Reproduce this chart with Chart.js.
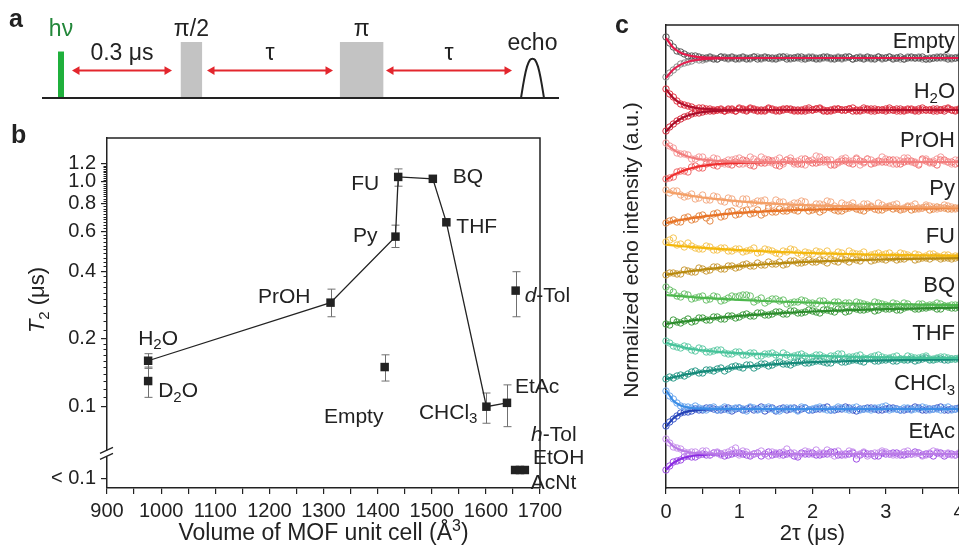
<!DOCTYPE html>
<html>
<head>
<meta charset="utf-8">
<script src="https://cdn.jsdelivr.net/npm/chart.js@4.4.1/dist/chart.umd.min.js"></script>
<style>
  html, body { margin: 0; padding: 0; background: #fff; width: 959px; height: 547px; overflow: hidden; }
  canvas { position: absolute; }
  #panelA { left: 0; top: 0; }
  #panelB { left: 0; top: 110px; }
  #panelC { left: 600px; top: 0; }
</style>
</head>
<body>
<canvas id="panelA" width="600" height="110"></canvas>
<canvas id="panelB" width="600" height="437"></canvas>
<canvas id="panelC" width="400" height="547"></canvas>
<script>
// ─── Panel a: pulse sequence (diagram units along the time line) ─────────────
const pulseNames = ['hν', 'π/2', 'π'];
const pulseStart = [16, 138.5, 297.7];
const pulseEnd = [22, 160.3, 341.6];
const pulseHeight = [0.83, 1, 1];
const delayLabels = ['0.3 μs', 'τ', 'τ'];
const delayStart = [35, 170, 349];
const delayEnd = [125, 286, 465];
const echoShapeX = [479, 482, 485, 488, 490.5, 493, 496, 499, 502];
const echoShapeY = [0, 0.32, 0.56, 0.68, 0.70, 0.68, 0.56, 0.32, 0];
const timeLineEnd = 517;

// ─── Panel b: T2 vs MOF unit-cell volume ─────────────────────────────────────
const lineNames = ['H2O', 'PrOH', 'Py', 'FU', 'BQ', 'THF', 'CHCl3', 'EtAc'];
const lineVolume = [976, 1313, 1433, 1438, 1502, 1527, 1601, 1639];
const lineT2 = [0.16, 0.29, 0.57, 1.05, 1.03, 0.66, 0.10, 0.104];
const lineErrLo = [0.148, 0.251, 0.51, 0.955, null, null, 0.0844, 0.0815];
const lineErrHi = [0.172, 0.333, 0.641, 1.14, null, null, 0.115, 0.125];

const otherNames = ['D2O', 'Empty', 'd-Tol'];
const otherVolume = [976, 1413, 1655];
const otherT2 = [0.13, 0.15, 0.328];
const otherErrLo = [0.11, 0.13, 0.251];
const otherErrHi = [0.15, 0.17, 0.398];

const belowNames = ['h-Tol', 'EtOH', 'AcNt'];
const belowVolume = [1654, 1663, 1672];
const belowLimitT2 = 0.0523;   // plotted in the "< 0.1" band under the axis break

const t2TickValues = [0.048, 0.1, 0.2, 0.4, 0.6, 0.8, 1.0, 1.2];
const t2TickLabels = ['< 0.1', '0.1', '0.2', '0.4', '0.6', '0.8', '1.0', '1.2'];
const breakT2 = 0.062;

// ─── Panel c: echo decays (a.u., each trace shifted to its own baseline) ────
const echoNames = ['Empty', 'H2O', 'PrOH', 'Py', 'FU', 'BQ', 'THF', 'CHCl3', 'EtAc'];
const echoBaselines = [430, 378, 326, 280, 231, 182, 129, 79, 34];

const tFit = [0, 0.1, 0.2, 0.3, 0.4, 0.5, 0.7, 1.0, 1.5, 2.0, 2.5, 3.0, 3.5, 4.0];
const tData = [0, 0.1, 0.2, 0.3, 0.4, 0.5, 0.6, 0.7, 0.8, 0.9, 1, 1.1, 1.2, 1.3, 1.4, 1.5, 1.6, 1.7, 1.8, 1.9,
  2, 2.1, 2.2, 2.3, 2.4, 2.5, 2.6, 2.7, 2.8, 2.9, 3, 3.1, 3.2, 3.3, 3.4, 3.5, 3.6, 3.7, 3.8, 3.9, 4];
const tMid = [0.05, 0.15, 0.25, 0.35, 0.45, 0.55, 0.65, 0.75, 0.85, 0.95, 1.05, 1.15, 1.25, 1.35, 1.45, 1.55, 1.65, 1.75, 1.85, 1.95,
  2.05, 2.15, 2.25, 2.35, 2.45, 2.55, 2.65, 2.75, 2.85, 2.95, 3.05, 3.15, 3.25, 3.35, 3.45, 3.55, 3.65, 3.75, 3.85, 3.95];

const emptyUpFit = [20, 10.3, 5.3, 2.7, 1.4, 0.7, 0.2, 0, 0, 0, 0, 0, 0, 0];
const emptyLowFit = [-20, -11.5, -6.6, -3.8, -2.2, -1.2, -0.4, -0.1, 0, 0, 0, 0, 0, 0];
const h2oUpFit = [20.7, 11.9, 6.8, 3.9, 2.2, 1.3, 0.4, 0.1, 0, 0, 0, 0, 0, 0];
const h2oLowFit = [-21.7, -13.8, -8.7, -5.5, -3.5, -2.2, -0.9, -0.2, 0, 0, 0, 0, 0, 0];
const prohUpFit = [18.3, 12.3, 8.2, 5.5, 3.7, 2.5, 1.1, 0.3, 0, 0, 0, 0, 0, 0];
const prohLowFit = [-17.7, -13.1, -9.7, -7.1, -5.3, -3.9, -2.1, -0.9, -0.2, 0, 0, 0, 0, 0];
const pyUpFit = [16.6, 15.2, 13.9, 12.7, 11.5, 10.5, 8.8, 6.7, 4.2, 2.7, 1.7, 1.1, 0.7, 0.4];
const pyLowFit = [-15, -13.4, -12, -10.7, -9.6, -8.6, -6.9, -4.9, -2.8, -1.6, -0.9, -0.5, -0.3, -0.2];
const fuUpFit = [12.3, 11.6, 10.9, 10.3, 9.7, 9.2, 8.2, 6.8, 5.1, 3.8, 2.8, 2.1, 1.6, 1.2];
const fuLowFit = [-17.7, -16.6, -15.5, -14.5, -13.6, -12.7, -11.1, -9.1, -6.5, -4.7, -3.3, -2.4, -1.7, -1.2];
const bqUpFit = [11, 10.4, 9.8, 9.3, 8.7, 8.2, 7.3, 6.1, 4.5, 3.4, 2.5, 1.9, 1.4, 1.0];
const bqLowFit = [-18, -17, -16, -15.1, -14.2, -13.4, -11.9, -10, -7.4, -5.5, -4.1, -3.1, -2.3, -1.7];
const thfUpFit = [16.3, 14, 12.2, 10.7, 9.5, 8.6, 7.2, 5.8, 4.2, 3.1, 2.3, 1.7, 1.2, 0.9];
const thfLowFit = [-20, -18.3, -16.7, -15.2, -13.9, -12.7, -10.6, -8.1, -5.1, -3.2, -2.1, -1.3, -0.8, -0.5];
const chcl3UpFit = [19, 8.3, 3.6, 1.6, 0.7, 0.3, 0.1, 0, 0, 0, 0, 0, 0, 0];
const chcl3LowFit = [-18, -9.2, -4.7, -2.4, -1.3, -0.6, -0.2, 0, 0, 0, 0, 0, 0, 0];
const etacUpFit = [15, 7.7, 4, 2, 1, 0.5, 0.1, 0, 0, 0, 0, 0, 0, 0];
const etacLowFit = [-16, -8.9, -4.9, -2.7, -1.5, -0.8, -0.2, 0, 0, 0, 0, 0, 0, 0];

// measured points at tData
const emptyUpData = [21, 11, 6, 2, 2, 0, 1, -1, 0, 1, 0, -1, 1, 0, 0, -1, 1, 0, 1, -1, 0, 0, 1, -1, 0, 1, 0, -1, 0, 1, 0, -1, 1, 0, 0, 1, -1, 0, 1, 0, 0];
const emptyLowData = [-19, -12, -6, -4, -1, -2, 0, -1, 1, 0, -1, 0, 1, -1, 0, 0, 1, -1, 0, 0, 1, -1, 0, 0, -1, 1, 0, 0, -1, 1, 0, 0, -1, 1, 0, -1, 0, 1, 0, -1, 1];
const h2oUpData = [21, 13, 6, 4, 1, 2, 1, 0, -1, 1, 2, 0, 1, -1, 2, 0, 1, 0, -1, 1, 0, 2, -1, 1, 0, 1, 0, 2, -1, 0, 1, 0, -1, 1, 0, 2, 0, -1, 1, 0, 1];
const h2oLowData = [-21, -14, -9, -6, -3, -2, -1, 0, -1, 0, 1, -1, 0, 0, 1, -1, 0, 1, 0, -1, 0, 1, -1, 0, 0, 1, -1, 0, 1, 0, -1, 0, 1, 0, -1, 0, 0, 1, -1, 0, 0];
const prohUpData = [19, 14, 8, 7, 3, 5, 1, 3, -2, 2, 4, -1, 3, 5, 0, 2, -2, 4, 1, -3, 2, 5, 0, -2, 3, 1, 4, -1, 2, 0, 3, -2, 1, 4, 0, 2, -1, 3, 1, -2, 2];
const prohLowData = [-17, -15, -9, -10, -4, -6, -1, -4, 0, -3, -2, 1, -4, -1, 2, -3, 0, 1, -2, 3, -1, 0, 2, -3, 1, -1, 3, 0, -2, 1, 0, 2, -2, 1, -1, 3, 0, -3, 2, 0, -1];
const pyUpData = [18, 17, 13, 12, 9, 13, 8, 11, 6, 9, 4, 9, 5, 7, 2, 8, 6, 3, 5, 6, 1, 4, 7, 2, 5, 3, 0, 4, 2, 5, 1, 3, -1, 2, 4, 0, 2, -1, 3, 1, 0];
const pyLowData = [-15, -12, -14, -9, -11, -7, -13, -5, -8, -3, -6, -2, -5, -7, 0, -4, -3, -1, -3, 0, -2, -4, 1, -2, -3, 0, -1, -3, 1, -2, 0, -1, -2, 1, -1, 0, -2, 1, 0, -1, 0];
const fuUpData = [15, 19, 13, 14, 9, 8, 10, 7, 9, 6, 8, 6, 9, 5, 7, 4, 6, 8, 4, 5, 3, 5, 6, 2, 4, 6, 3, 5, 2, 4, 3, 1, 4, 2, 3, 0, 3, 1, 2, 0, 1];
const fuLowData = [-18, -16, -17, -14, -15, -12, -13, -10, -12, -9, -10, -7, -9, -8, -5, -7, -8, -4, -6, -5, -5, -3, -6, -4, -2, -5, -3, -1, -4, -2, -3, -1, -2, 0, -3, -1, -2, 0, -1, -2, 0];
const bqUpData = [19, 14, 9, 11, 8, 10, 7, 9, 6, 10, 10, 11, 4, 8, 5, 7, 6, 3, 4, 5, 3, 5, 2, 4, 1, 3, 4, 2, 0, 3, 1, 3, 0, 2, -1, 2, 1, 3, 0, 1, 1];
const bqLowData = [-18, -14, -17, -13, -15, -12, -14, -11, -13, -10, -11, -8, -10, -7, -9, -6, -8, -5, -7, -6, -5, -7, -4, -6, -3, -5, -3, -4, -2, -4, -3, -2, -4, -1, -3, -2, -1, -3, 0, -2, -1];
const thfUpData = [18, 13, 11, 12, 8, 10, 7, 9, 6, 5, 7, 4, 6, 3, 5, 4, 6, 2, 4, 3, 2, 4, 1, 3, 5, 2, 3, 1, 2, 4, 1, 2, 0, 3, 1, 2, 0, 1, 2, 0, 1];
const thfLowData = [-20, -19, -16, -15, -12, -14, -11, -10, -12, -8, -8, -6, -9, -5, -7, -4, -5, -6, -3, -4, -3, -2, -4, -1, -3, -2, -1, -3, 0, -2, -1, -2, 0, -1, -2, 0, -1, 0, -1, 0, 0];
const chcl3UpData = [18, 10, 3, 2, 3, 0, 1, -1, 2, 0, 1, -2, 1, 0, 2, -1, 0, 1, -2, 1, 0, 2, -1, 0, 1, -1, 2, 0, -1, 1, 3, 0, -1, 1, 0, 2, -1, 0, 1, -1, 0];
const chcl3LowData = [-17, -10, -4, -3, 0, -1, 1, -1, 0, -2, 1, 0, -1, 2, 0, -2, 1, 0, -1, 1, -1, 0, 2, -1, 0, 1, -2, 0, 1, -1, 0, 1, -1, 0, 2, -1, 0, 1, -1, 0, 1];
const etacUpData = [15, 7, 5, 1, 2, 3, -1, 2, 1, 4, -1, 2, 0, 3, -2, 1, 2, 0, -1, 3, 0, 1, 4, -2, 0, 3, -1, 2, 0, 1, 2, -1, 0, 3, 0, -2, 1, 2, 0, -1, 1];
const etacLowData = [-16, -8, -6, -2, -3, 0, -1, 1, -2, 0, 1, -1, 0, -2, 2, 0, -1, 1, -3, 0, 1, -1, 0, 2, -1, 0, -5, 1, 0, -2, 0, 1, -1, 0, 2, -1, 0, 1, -2, 0, 0];

// measured points at tMid
const emptyUpMid = [15, 7, 4, 2, 1, 0, -1, 1, 0, -1, 1, 0, -1, 1, 0, 1, -1, 0, 1, 0, -1, 1, 0, 0, 1, -1, 0, 1, -1, 0, 1, 0, -1, 1, 0, -1, 0, 1, -1, 0];
const emptyLowMid = [-15, -9, -5, -3, -2, -1, 0, 1, -1, 0, 0, -1, 1, 0, -1, 0, 1, 0, -1, 1, 0, 0, -1, 1, 0, -1, 1, 0, 0, -1, 1, 0, -1, 0, 1, -1, 0, 0, 1, 0];
const h2oUpMid = [16, 9, 5, 3, 2, 1, 0, 1, 0, -1, 1, 2, 0, -1, 1, 0, 1, -1, 0, 2, 1, 0, -1, 1, 0, 2, -1, 0, 1, 0, 2, -1, 0, 1, -1, 0, 1, 0, 2, 0];
const h2oLowMid = [-17, -11, -7, -4, -3, -1, -1, 0, 1, -1, 0, 1, -1, 0, 0, -1, 1, 0, -1, 0, 1, -1, 0, 1, 0, -1, 0, 1, -1, 0, 0, 1, -1, 0, 1, 0, -1, 0, 1, -1];
const prohUpMid = [16, 9, 8, 3, 5, 1, 4, -1, 2, 3, -2, 5, 1, 3, -1, 4, 2, -2, 3, 1, 6, 0, 2, -1, 4, 1, -3, 3, 0, 5, -1, 2, 4, 0, -2, 3, 1, 5, 0, 2];
const prohLowMid = [-16, -10, -9, -5, -6, -2, -3, -1, -2, 0, 2, -3, 0, -1, 1, -4, 2, 0, -2, 1, -1, 2, -3, 0, 1, -2, 1, 3, -1, 0, 2, -2, 0, 1, -3, 1, -1, 2, 0, -2];
const pyUpMid = [15, 17, 11, 14, 10, 8, 12, 7, 10, 5, 9, 4, 7, 8, 3, 6, 2, 5, 7, 1, 4, 3, 6, 0, 3, 5, 1, 4, -1, 3, 2, 4, 0, 2, -1, 3, 1, 0, 2, -1];
const pyLowMid = [-13, -14, -10, -12, -8, -10, -6, -9, -4, -7, -3, -6, -2, -5, -4, -1, -3, -2, 0, -3, -1, -2, 0, -3, -1, 1, -2, 0, -1, -2, 1, 0, -1, -2, 0, 1, -1, 0, -1, 0];
const fuUpMid = [17, 12, 10, 11, 8, 11, 7, 9, 6, 8, 5, 7, 4, 8, 6, 3, 5, 7, 2, 4, 6, 3, 2, 5, 1, 4, 3, 0, 3, 2, 4, 1, 3, 0, 2, 1, 3, 0, 2, 1];
const fuLowMid = [-16, -17, -13, -15, -11, -14, -10, -12, -9, -11, -8, -9, -6, -8, -7, -5, -7, -4, -6, -3, -5, -4, -2, -5, -3, -2, -4, -1, -3, -2, -1, -3, -2, 0, -2, -1, 0, -2, -1, -1];
const bqUpMid = [16, 10, 12, 7, 9, 6, 10, 5, 8, 9, 11, 10, 6, 3, 7, 5, 2, 4, 6, 3, 2, 5, 1, 4, 3, 0, 3, 1, 4, 2, 0, 2, 3, -1, 2, 0, 1, 2, 0, 1];
const bqLowMid = [-19, -16, -15, -16, -12, -14, -11, -13, -10, -12, -9, -10, -7, -9, -8, -6, -8, -5, -7, -4, -6, -4, -5, -3, -6, -2, -4, -3, -5, -2, -3, -4, -2, -1, -3, -2, -1, -3, -1, -2];
const thfUpMid = [16, 12, 13, 9, 11, 7, 8, 9, 5, 7, 4, 6, 3, 5, 6, 2, 4, 3, 5, 1, 4, 2, 3, 5, 1, 2, 4, 0, 3, 2, 1, 3, 0, 2, 1, 3, 0, 2, 1, 0];
const thfLowMid = [-18, -17, -17, -13, -14, -11, -12, -9, -10, -7, -9, -6, -7, -5, -6, -3, -5, -4, -2, -4, -2, -3, -4, -1, -3, -1, -2, 0, -2, -1, 0, -2, -1, 0, -1, 1, -1, 0, -1, 0];
const chcl3UpMid = [13, 6, 2, 1, 1, -1, 2, 0, -1, 1, 0, 2, -1, 1, 0, -2, 1, 0, 2, -1, 1, 0, -1, 2, 0, 1, -1, 0, 1, 2, -1, 0, 1, -1, 0, 1, 0, -1, 2, 0];
const chcl3LowMid = [-13, -7, -3, -2, -1, 1, 0, -1, 1, 0, -1, 1, 0, -2, 1, 0, -1, 1, 0, -1, 0, 1, -1, 0, 2, -1, 0, 1, 0, -1, 1, 0, -1, 0, 1, -1, 0, 2, -1, 0];
const etacUpMid = [11, 6, 2, 2, 0, 3, 1, -1, 2, 6, 3, -1, 1, 0, 2, -1, 5, 1, 0, 2, 4, 1, 0, 3, -1, 2, 0, -2, 1, 3, 0, -1, 2, 0, 1, -1, 3, 0, 1, -1];
const etacLowMid = [-12, -7, -3, -3, -1, -1, 1, 0, -1, 1, 0, -2, 1, 0, -1, 1, 0, -2, 1, 0, -1, 0, 2, -1, 0, 1, -1, 0, -2, 1, 0, 1, -1, 0, 1, 0, -2, 1, 0, -1];

const echoUpFit = [emptyUpFit, h2oUpFit, prohUpFit, pyUpFit, fuUpFit, bqUpFit, thfUpFit, chcl3UpFit, etacUpFit];
const echoLowFit = [emptyLowFit, h2oLowFit, prohLowFit, pyLowFit, fuLowFit, bqLowFit, thfLowFit, chcl3LowFit, etacLowFit];
const echoUpData = [emptyUpData, h2oUpData, prohUpData, pyUpData, fuUpData, bqUpData, thfUpData, chcl3UpData, etacUpData];
const echoLowData = [emptyLowData, h2oLowData, prohLowData, pyLowData, fuLowData, bqLowData, thfLowData, chcl3LowData, etacLowData];
const echoUpMid = [emptyUpMid, h2oUpMid, prohUpMid, pyUpMid, fuUpMid, bqUpMid, thfUpMid, chcl3UpMid, etacUpMid];
const echoLowMid = [emptyLowMid, h2oLowMid, prohLowMid, pyLowMid, fuLowMid, bqLowMid, thfLowMid, chcl3LowMid, etacLowMid];

// ─── Styles ──────────────────────────────────────────────────────────────────
const FONT = '"Liberation Sans", Arial, Helvetica, sans-serif';
const INK = '#222';
Chart.defaults.font.family = FONT;
Chart.defaults.color = INK;

const pulseColors = ['#1fb03c', '#c3c3c3', '#c3c3c3'];
const cUpPoint = ['#555555', '#e0303f', '#f59a9a', '#f3ab84', '#f5c453', '#6cc16c', '#5fcaa5', '#6aa6ee', '#c790ec'];
const cLowPoint = ['#8c8c8c', '#d4283a', '#f06a6a', '#e58845', '#c99a36', '#3f9c3f', '#2b9a89', '#3a57c9', '#9c4ae4'];
const cUpLine = ['#e8194b', '#b0102c', '#f27d7d', '#f4a067', '#f4b80c', '#4db84d', '#46c39a', '#3b8de6', '#b97ae6'];
const cLowLine = ['#e41f4f', '#a80d2a', '#ef2f2f', '#e87326', '#b88a0e', '#2c8c2c', '#168a7a', '#2542b6', '#8a2be2'];
const cLabelDy = [-10, -12, -15, -13, -14, -14, -19, -19, -16];
const cLabelParts = [[['Empty']], [['H'], ['2', 'sub'], ['O']], [['PrOH']], [['Py']], [['FU']], [['BQ']], [['THF']],
  [['CHCl'], ['3', 'sub']], [['EtAc']]];

const bLabels = [
  { at: 'H2O', dx: -10, dy: -16, align: 'left', parts: [['H'], ['2', 'sub'], ['O']] },
  { at: 'D2O', dx: 10, dy: 16, align: 'left', parts: [['D'], ['2', 'sub'], ['O']] },
  { at: 'PrOH', dx: -20, dy: 0, align: 'right', parts: [['PrOH']] },
  { at: 'Py', dx: -18, dy: 5, align: 'right', parts: [['Py']] },
  { at: 'FU', dx: -19, dy: 13, align: 'right', parts: [['FU']] },
  { at: 'BQ', dx: 20, dy: 4, align: 'left', parts: [['BQ']] },
  { at: 'THF', dx: 10, dy: 11, align: 'left', parts: [['THF']] },
  { at: 'd-Tol', dx: 9, dy: 11, align: 'left', parts: [['d', 'i'], ['-Tol']] },
  { at: 'Empty', dx: -31, dy: 56, align: 'center', parts: [['Empty']] },
  { at: 'CHCl3', dx: -9, dy: 12, align: 'right', parts: [['CHCl'], ['3', 'sub']] },
  { at: 'EtAc', dx: 8, dy: -10, align: 'left', parts: [['EtAc']] },
  { at: 'h-Tol', dx: 16, dy: -29, align: 'left', parts: [['h', 'i'], ['-Tol']] },
  { at: 'EtOH', dx: 13, dy: -6, align: 'left', parts: [['EtOH']] },
  { at: 'AcNt', dx: 6, dy: 19, align: 'left', parts: [['AcNt']] }
];

// ─── Utility: text with italic / sub / sup pieces ────────────────────────────
function richText(ctx, parts, x, y, size, align) {
  const fontOf = k => (k === 'i' ? 'italic ' : '') + ((k === 'sub' || k === 'sup') ? Math.round(size * 0.7) : size) + 'px ' + FONT;
  let w = 0;
  parts.forEach(([t, k]) => { ctx.font = fontOf(k); w += ctx.measureText(t).width; });
  let cx = align === 'center' ? x - w / 2 : align === 'right' ? x - w : x;
  ctx.textAlign = 'left';
  ctx.textBaseline = 'alphabetic';
  parts.forEach(([t, k]) => {
    ctx.font = fontOf(k);
    const dy = k === 'sub' ? size * 0.22 : k === 'sup' ? -size * 0.38 : 0;
    ctx.fillText(t, cx, y + dy);
    cx += ctx.measureText(t).width;
  });
}

function panelLetter(ctx, letter, x, y) {
  ctx.font = 'bold 25px ' + FONT;
  ctx.fillStyle = INK;
  ctx.textAlign = 'left';
  ctx.textBaseline = 'alphabetic';
  ctx.fillText(letter, x, y);
}

const noHover = { legend: { display: false }, tooltip: { enabled: false } };

// ─── Panel a ─────────────────────────────────────────────────────────────────
const aDatasets = [
  { data: [{ x: 0, y: 0 }, { x: timeLineEnd, y: 0 }], borderColor: INK, borderWidth: 2, pointRadius: 0, clip: false }
];
pulseNames.forEach((n, i) => {
  aDatasets.push({
    data: [{ x: pulseStart[i], y: 0 }, { x: pulseStart[i], y: pulseHeight[i] }, { x: pulseEnd[i], y: pulseHeight[i] }, { x: pulseEnd[i], y: 0 }],
    borderWidth: 0, borderColor: pulseColors[i], backgroundColor: pulseColors[i], fill: 'origin', pointRadius: 0, clip: false
  });
});
delayLabels.forEach((n, i) => {
  aDatasets.push({
    data: [{ x: delayStart[i], y: 0.49 }, { x: delayEnd[i], y: 0.49 }],
    borderColor: '#e3262d', borderWidth: 2, pointStyle: 'triangle', pointRadius: 5, pointRotation: [-90, 90],
    pointBackgroundColor: '#e3262d', pointBorderColor: '#e3262d', pointBorderWidth: 0, clip: false
  });
});
aDatasets.push({
  data: echoShapeX.map((x, i) => ({ x, y: echoShapeY[i] })),
  borderColor: INK, borderWidth: 2, pointRadius: 0, tension: 0.4, clip: false
});

const panelADecor = {
  id: 'panelADecor',
  afterDraw(chart) {
    const { ctx, scales: { x } } = chart;
    ctx.save();
    pulseNames.forEach((n, i) => {
      ctx.fillStyle = i === 0 ? '#23873a' : INK;
      richText(ctx, [[n]], x.getPixelForValue((pulseStart[i] + pulseEnd[i]) / 2), 36, 23, 'center');
    });
    ctx.fillStyle = INK;
    delayLabels.forEach((n, i) => {
      richText(ctx, [[n]], x.getPixelForValue((delayStart[i] + delayEnd[i]) / 2), 60, 23, 'center');
    });
    richText(ctx, [['echo']], x.getPixelForValue(echoShapeX[4]), 50, 23, 'center');
    panelLetter(ctx, 'a', 9, 27);
    ctx.restore();
  }
};

new Chart(document.getElementById('panelA'), {
  type: 'line',
  data: { datasets: aDatasets },
  options: {
    responsive: false, animation: false, events: [],
    layout: { padding: { left: 42, right: 41, top: 42, bottom: 12 } },
    plugins: noHover,
    scales: {
      x: { type: 'linear', min: 0, max: timeLineEnd, display: false },
      y: { type: 'linear', min: 0, max: 1, display: false }
    }
  },
  plugins: [panelADecor]
});

// ─── Panel b ─────────────────────────────────────────────────────────────────
const squareMarker = { pointStyle: 'rect', pointRadius: 6, pointHoverRadius: 6, pointBackgroundColor: INK, pointBorderColor: INK, pointBorderWidth: 0 };

const t2MinorTicks = [];
for (let k = 11; k < 20; k++) t2MinorTicks.push(k / 100);
for (let k = 11; k < 60; k++) if (k % 10 !== 0) t2MinorTicks.push(k * 2 / 100);

const anchorsB = {};
lineNames.forEach((n, i) => { anchorsB[n] = [lineVolume[i], lineT2[i]]; });
otherNames.forEach((n, i) => { anchorsB[n] = [otherVolume[i], otherT2[i]]; });
belowNames.forEach((n, i) => { anchorsB[n] = [belowVolume[i], belowLimitT2]; });

const panelBDecor = {
  id: 'panelBDecor',
  beforeDatasetsDraw(chart) {
    const { ctx, scales: { x, y } } = chart;
    const bars = lineVolume.map((v, i) => [v, lineErrLo[i], lineErrHi[i]])
      .concat(otherVolume.map((v, i) => [v, otherErrLo[i], otherErrHi[i]]));
    ctx.save();
    ctx.strokeStyle = '#707070';
    ctx.lineWidth = 1;
    bars.forEach(([v, lo, hi]) => {
      if (lo == null) return;
      const px = Math.round(x.getPixelForValue(v)) + 0.5;
      const p1 = y.getPixelForValue(lo), p2 = y.getPixelForValue(hi);
      ctx.beginPath();
      ctx.moveTo(px, p1); ctx.lineTo(px, p2);
      ctx.moveTo(px - 4, p1); ctx.lineTo(px + 4, p1);
      ctx.moveTo(px - 4, p2); ctx.lineTo(px + 4, p2);
      ctx.stroke();
    });
    ctx.restore();
  },
  afterDraw(chart) {
    const { ctx, chartArea: a, scales: { x, y } } = chart;
    ctx.save();
    // frame top + right
    ctx.strokeStyle = INK;
    ctx.lineWidth = 1.5;
    ctx.beginPath();
    ctx.moveTo(a.left, a.top); ctx.lineTo(a.right, a.top); ctx.lineTo(a.right, a.bottom);
    ctx.stroke();
    // minor log ticks
    ctx.lineWidth = 1;
    ctx.beginPath();
    t2MinorTicks.forEach(v => {
      const py = Math.round(y.getPixelForValue(v)) + 0.5;
      ctx.moveTo(a.left - 3.5, py); ctx.lineTo(a.left, py);
    });
    ctx.stroke();
    // axis break
    const yb = y.getPixelForValue(breakT2);
    ctx.fillStyle = '#fff';
    ctx.fillRect(a.left - 2, yb - 3, 4, 6);
    ctx.lineWidth = 1.3;
    ctx.beginPath();
    ctx.moveTo(a.left - 7, yb); ctx.lineTo(a.left + 6, yb - 6);
    ctx.moveTo(a.left - 7, yb + 6); ctx.lineTo(a.left + 6, yb);
    ctx.stroke();
    // point labels
    ctx.fillStyle = INK;
    bLabels.forEach(l => {
      const [vx, vy] = anchorsB[l.at];
      richText(ctx, l.parts, x.getPixelForValue(vx) + l.dx, y.getPixelForValue(vy) + l.dy, 21, l.align);
    });
    // axis titles
    richText(ctx, [['Volume of MOF unit cell (Å'], ['3', 'sup'], [')']], (a.left + a.right) / 2, 430, 23, 'center');
    ctx.save();
    ctx.translate(37, 190);
    ctx.rotate(-Math.PI / 2);
    richText(ctx, [['T', 'i'], ['2', 'sub'], [' (μs)']], 0, 7, 22, 'center');
    ctx.restore();
    panelLetter(ctx, 'b', 11, 33);
    ctx.restore();
  }
};

new Chart(document.getElementById('panelB'), {
  type: 'line',
  data: {
    datasets: [
      { data: lineVolume.map((v, i) => ({ x: v, y: lineT2[i] })), borderColor: INK, borderWidth: 1.3, ...squareMarker },
      { data: otherVolume.map((v, i) => ({ x: v, y: otherT2[i] })), showLine: false, ...squareMarker },
      { data: belowVolume.map(v => ({ x: v, y: belowLimitT2 })), showLine: false, ...squareMarker }
    ]
  },
  options: {
    responsive: false, animation: false, events: [],
    layout: { padding: { left: 0, right: 60, top: 28, bottom: 0 } },
    plugins: noHover,
    scales: {
      x: {
        type: 'linear', min: 900, max: 1700,
        afterFit: s => { s.height = 59; },
        ticks: { stepSize: 50, autoSkip: false, maxRotation: 0, padding: 5, font: { size: 20 }, color: INK,
          callback: v => (v % 100 === 0 ? String(v) : '') },
        grid: { drawOnChartArea: false, tickLength: 6, color: INK, lineWidth: 1.2 },
        border: { color: INK, width: 1.5 }
      },
      y: {
        type: 'logarithmic', min: 0.0435, max: 1.564,
        afterFit: s => { s.width = 107; },
        afterBuildTicks: s => { s.ticks = t2TickValues.map(v => ({ value: v })); },
        ticks: { autoSkip: false, padding: 5, font: { size: 20 }, color: INK,
          callback: v => { const k = t2TickValues.findIndex(t => Math.abs(t - v) < 1e-9); return k >= 0 ? t2TickLabels[k] : ''; } },
        grid: { drawOnChartArea: false, tickLength: 6, color: INK, lineWidth: 1.2 },
        border: { color: INK, width: 1.5 }
      }
    }
  },
  plugins: [panelBDecor]
});

// ─── Panel c ─────────────────────────────────────────────────────────────────
const echoDatasets = [];
echoNames.forEach((name, i) => {
  const base = echoBaselines[i];
  const pts = (ts, vals) => ts.map((t, k) => ({ x: t, y: base + vals[k] }));
  const circles = { showLine: false, pointStyle: 'circle', pointRadius: 3.2, pointBorderWidth: 1, pointBackgroundColor: 'rgba(0,0,0,0)', order: 2, clip: false };
  const fit = { borderWidth: 2.2, pointRadius: 0, cubicInterpolationMode: 'monotone', order: 1, clip: false };
  echoDatasets.push(
    { data: pts(tData, echoUpData[i]).concat(pts(tMid, echoUpMid[i])), pointBorderColor: cUpPoint[i], ...circles },
    { data: pts(tData, echoLowData[i]).concat(pts(tMid, echoLowMid[i])), pointBorderColor: cLowPoint[i], ...circles },
    { data: pts(tFit, echoUpFit[i]), borderColor: cUpLine[i], ...fit },
    { data: pts(tFit, echoLowFit[i]), borderColor: cLowLine[i], ...fit }
  );
});

const panelCDecor = {
  id: 'panelCDecor',
  afterDraw(chart) {
    const { ctx, chartArea: a, scales: { x, y } } = chart;
    ctx.save();
    ctx.strokeStyle = INK;
    ctx.lineWidth = 1.5;
    ctx.beginPath();
    ctx.moveTo(a.left, a.top); ctx.lineTo(a.right, a.top); ctx.lineTo(a.right, a.bottom);
    ctx.stroke();
    ctx.fillStyle = INK;
    echoNames.forEach((n, i) => {
      richText(ctx, cLabelParts[i], a.right - 4, y.getPixelForValue(echoBaselines[i]) + cLabelDy[i], 22, 'right');
    });
    richText(ctx, [['2τ (μs)']], x.getPixelForValue(2), 540, 22, 'center');
    ctx.save();
    ctx.translate(31, 250);
    ctx.rotate(-Math.PI / 2);
    richText(ctx, [['Normalized echo intensity (a.u.)']], 0, 7, 21, 'center');
    ctx.restore();
    panelLetter(ctx, 'c', 15, 33);
    ctx.restore();
  }
};

new Chart(document.getElementById('panelC'), {
  type: 'line',
  data: { datasets: echoDatasets },
  options: {
    responsive: false, animation: false, events: [],
    layout: { padding: { left: 0, right: 41, top: 25, bottom: 0 } },
    plugins: noHover,
    scales: {
      x: {
        type: 'linear', min: 0, max: 4,
        afterFit: s => { s.height = 59; },
        ticks: { stepSize: 0.5, autoSkip: false, maxRotation: 0, padding: 6, font: { size: 20 }, color: INK,
          callback: v => (Number.isInteger(v) ? String(v) : '') },
        grid: { drawOnChartArea: false, tickLength: 6, color: INK, lineWidth: 1.2 },
        border: { color: INK, width: 1.5 }
      },
      y: {
        type: 'linear', min: 0, max: 463,
        afterFit: s => { s.width = 66; },
        ticks: { display: false },
        grid: { drawOnChartArea: false, drawTicks: false },
        border: { color: INK, width: 1.5 }
      }
    }
  },
  plugins: [panelCDecor]
});
</script>
</body>
</html>
